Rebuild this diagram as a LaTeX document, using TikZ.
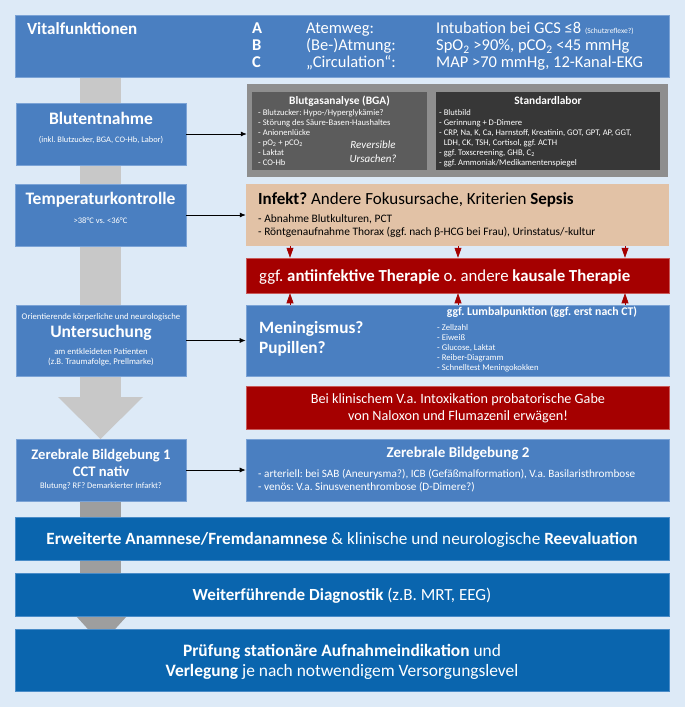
\documentclass[tikz,border=0pt]{standalone}
\usepackage{fontspec}
\setmainfont{Carlito}
\usetikzlibrary{arrows.meta, positioning}

\definecolor{bgblue}{HTML}{DDEAF7}
\definecolor{boxblue}{HTML}{4A7FC1}
\definecolor{boxedge}{HTML}{7BA3D6}
\definecolor{barblue}{HTML}{0A65AE}
\definecolor{baredge}{HTML}{4A8CC8}
\definecolor{darkred}{HTML}{A50000}
\definecolor{rededge}{HTML}{C85A5A}
\definecolor{infektbeige}{HTML}{E2C2A6}
\definecolor{shaftlight}{HTML}{C8C8C8}
\definecolor{shaftdark}{HTML}{9E9E9E}
\definecolor{graybox}{HTML}{8E8E8E}
\definecolor{bgagray}{HTML}{5C5C5C}
\definecolor{laborgray}{HTML}{373737}

\newcommand\fsz[2]{\fontsize{#1pt}{#2pt}\selectfont}

\begin{document}
\frenchspacing
\begin{tikzpicture}[x=1pt, y=-1pt,
  box/.style={rectangle, draw=boxedge, line width=0.6pt, fill=boxblue, inner sep=0pt},
  bar/.style={rectangle, draw=baredge, line width=0.6pt, fill=barblue, inner sep=0pt, minimum width=654pt},
  redbox/.style={rectangle, draw=rededge, line width=0.5pt, fill=darkred, inner sep=0pt, minimum width=423pt},
  graybg/.style={rectangle, inner sep=0pt},
  txt/.style={inner sep=0pt, text=white},
  link/.style={-{Latex[length=6pt,width=5pt]}, line width=0.8pt},
  redlink/.style={-{Triangle[length=10pt,width=7pt]}, draw=darkred, line width=0.6pt}]

  % background
  \useasboundingbox (0,0) rectangle (685,707);
  \fill[bgblue] (0,0) rectangle (685,707);

  % big gray arrows behind the boxes
  \fill[shaftlight] (80,70) rectangle (121,397);
  \fill[shaftlight] (58,397) -- (143,397) -- (100.5,439) -- cycle;
  \fill[shaftdark] (80,495) rectangle (121,620);
  \fill[shaftdark] (76,616) -- (127,616) -- (101.5,644) -- cycle;

  % A B C
  \node[box, minimum width=654pt, minimum height=62pt] (vital) at (342,46) {};
  \node[txt, anchor=west, font=\fsz{17}{20}\bfseries] (vitaltitel) at (27,29) {Vitalfunktionen};
  \node[txt, anchor=west, font=\fsz{16.5}{16}] (abc) at (252,47) {%
    \begin{tabular}{@{}p{54pt}@{}p{130pt}@{}l@{}}
      \textbf{A} & Atemweg: & Intubation bei GCS ≤8 {\fsz{7.5}{8}(Schutzreflexe?)}\\
      \textbf{B} & (Be-)Atmung: & SpO\textsubscript{2} >90\%, pCO\textsubscript{2} <45 mmHg\\
      \textbf{C} & „Circulation“: & MAP >70 mmHg, 12-Kanal-EKG
    \end{tabular}};

  % Blutentnahme
  \node[box, minimum width=170pt, minimum height=62pt] (blut) at (101,134) {};
  \node[txt, font=\fsz{17.5}{20}\bfseries] (bluttitel) at (101,118) {Blutentnahme};
  \node[txt, font=\fsz{8.4}{10}] (blutsub) at (101,140) {(inkl. Blutzucker, BGA, CO-Hb, Labor)};

  \node[graybg, fill=graybox, minimum width=421pt, minimum height=93pt] (labor) at (457.5,130.5) {};
  \node[graybg, fill=bgagray, minimum width=175pt, minimum height=78pt] (bga) at (339.5,131) {};
  \node[graybg, fill=laborgray, minimum width=224pt, minimum height=78pt] (std) at (548,131) {};
  \node[txt, font=\fsz{11.4}{13}\bfseries] (bgatitel) at (339.5,101) {Blutgasanalyse (BGA)};
  \node[txt, font=\fsz{11.4}{13}\bfseries] (stdtitel) at (548,101) {Standardlabor};
  \foreach \zeile [count=\i] in {{- Blutzucker: Hypo-/Hyperglykämie?}, {- Störung des Säure-Basen-Haushaltes},
      {- Anionenlücke}, {- pO\textsubscript{2} + pCO\textsubscript{2}}, {- Laktat}, {- CO-Hb}}
    \node[txt, anchor=west, font=\fsz{8.6}{10}] (bga\i) at (258,{103+10*\i}) {\zeile};
  \foreach \zeile [count=\i] in {{- Blutbild}, {- Gerinnung + D-Dimere},
      {- CRP, Na, K, Ca, Harnstoff, Kreatinin, GOT, GPT, AP, GGT,}, {\hphantom{- }LDH, CK, TSH, Cortisol, ggf. ACTH},
      {- ggf. Toxscreening, GHB, C\textsubscript{2}}, {- ggf. Ammoniak/Medikamentenspiegel}}
    \node[txt, anchor=west, font=\fsz{8.6}{10}] (std\i) at (439,{103+10*\i}) {\zeile};
  \node[txt, align=center, font=\fsz{11}{14}\itshape] (reversibel) at (373,152) {Reversible\\Ursachen?};
  \draw[link] (blut.east) -- (blut.east -| labor.west);

  % Temperatur
  \node[box, minimum width=171pt, minimum height=62pt] (temp) at (100.5,215) {};
  \node[txt, font=\fsz{17.5}{20}\bfseries] (temptitel) at (100.5,200) {Temperaturkontrolle};
  \node[txt, font=\fsz{8.5}{10}] (tempsub) at (100.5,221) {>38°C vs. <36°C};
  \node[rectangle, fill=infektbeige, inner sep=0pt, minimum width=423pt, minimum height=62pt] (infekt) at (457.5,215) {};
  \node[anchor=west, inner sep=0pt, font=\fsz{17}{20}] (infekttitel) at (258,200)
    {\textbf{Infekt?} Andere Fokusursache, Kriterien \textbf{Sepsis}};
  \node[anchor=west, inner sep=0pt, font=\fsz{11.4}{13}] (infekt1) at (258,219) {- Abnahme Blutkulturen, PCT};
  \node[anchor=west, inner sep=0pt, font=\fsz{11.4}{13}] (infekt2) at (258,232)
    {- Röntgenaufnahme Thorax (ggf. nach β-HCG bei Frau), Urinstatus/-kultur};
  \draw[link] (temp.east) -- (temp.east -| infekt.west);

  % Therapie
  \node[redbox, minimum height=35pt] (therapie) at (457.5,275.5) {};
  \node[txt, anchor=west, font=\fsz{16.8}{20}] (therapietext) at (259,277)
    {ggf. \textbf{antiinfektive Therapie} o. andere \textbf{kausale Therapie}};

  % Untersuchung
  \node[box, minimum width=170pt, minimum height=71pt] (unters) at (101,340.5) {};
  \node[txt, font=\fsz{8.7}{10}] (unters1) at (101,317) {Orientierende körperliche und neurologische};
  \node[txt, font=\fsz{17.5}{20}\bfseries] (unterstitel) at (101,333) {Untersuchung};
  \node[txt, font=\fsz{8.7}{10.5}, align=center] (unters2) at (101,357)
    {am entkleideten Patienten\\(z.B. Traumafolge, Prellmarke)};
  \node[box, minimum width=423pt, minimum height=71pt] (meningismus) at (457.5,340.5) {};
  \node[txt, anchor=west, align=left, font=\fsz{17.3}{20}\bfseries] (meningtext) at (259,339)
    {Meningismus?\\Pupillen?};
  \node[txt, font=\fsz{11.8}{13}\bfseries] (lumbaltitel) at (542,312) {ggf. Lumbalpunktion (ggf. erst nach CT)};
  \foreach \zeile [count=\i] in {{- Zellzahl}, {- Eiweiß}, {- Glucose, Laktat}, {- Reiber-Diagramm}, {- Schnelltest Meningokokken}}
    \node[txt, anchor=west, font=\fsz{8.7}{10}] (lumbal\i) at (437,{318+10*\i}) {\zeile};
  \draw[link] (unters.east) -- (unters.east -| meningismus.west);

  \foreach \x in {290,458,625} {
    \draw[redlink] (infekt.south -| \x,0) -- (therapie.north -| \x,0);
    \draw[redlink] (meningismus.north -| \x,0) -- (therapie.south -| \x,0);
  }

  % Intoxikation
  \node[redbox, minimum height=43pt] (intox) at (457.5,407.5) {};
  \node[txt, align=center, font=\fsz{14.2}{17}] (intoxtext) at (458,408.5)
    {Bei klinischem V.a. Intoxikation probatorische Gabe\\von Naloxon und Flumazenil erwägen!};

  % Bildgebung
  \node[box, minimum width=170pt, minimum height=62pt] (cct) at (101,470) {};
  \node[txt, align=center, font=\fsz{14.6}{17}\bfseries] (ccttitel) at (101,462.5) {Zerebrale Bildgebung 1\\CCT nativ};
  \node[txt, font=\fsz{8.5}{10}] (cctsub) at (101,486) {Blutung? RF? Demarkierter Infarkt?};
  \node[box, minimum width=423pt, minimum height=62pt] (bild2) at (457.5,470) {};
  \node[txt, font=\fsz{15}{17}\bfseries] (bild2titel) at (458,454) {Zerebrale Bildgebung 2};
  \node[txt, anchor=west, font=\fsz{11.2}{13}] (bild2a) at (258,474)
    {- arteriell: bei SAB (Aneurysma?), ICB (Gefäßmalformation), V.a. Basilaristhrombose};
  \node[txt, anchor=west, font=\fsz{11.2}{13}] (bild2b) at (258,487) {- venös: V.a. Sinusvenenthrombose (D-Dimere?)};
  \draw[link] (cct.east) -- (cct.east -| bild2.west);

  % untere Balken
  \node[bar, minimum height=43pt] (anamnese) at (342,538.5) {};
  \node[txt, font=\fsz{17.2}{20}] (anamnesetext) at (342,540)
    {\textbf{Erweiterte Anamnese/Fremdanamnese} \& klinische und neurologische \textbf{Reevaluation}};
  \node[bar, minimum height=43pt] (diagnostik) at (342,594.5) {};
  \node[txt, font=\fsz{17}{20}] (diagnostiktext) at (342,596)
    {\textbf{Weiterführende Diagnostik} (z.B. MRT, EEG)};
  \node[bar, minimum height=62pt] (verlegung) at (342,660) {};
  \node[txt, align=center, font=\fsz{17.4}{20}] (verlegungtext) at (342,662)
    {\textbf{Prüfung stationäre Aufnahmeindikation} und\\\textbf{Verlegung} je nach notwendigem Versorgungslevel};
\end{tikzpicture}
\end{document}
